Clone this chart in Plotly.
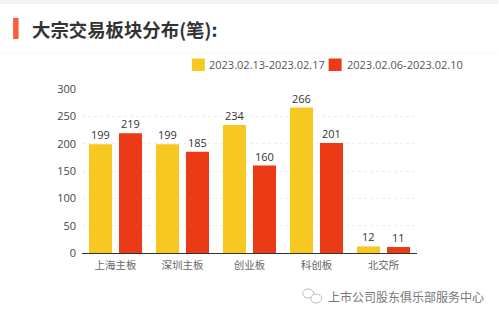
import plotly.graph_objects as go

categories = ["上海主板", "深圳主板", "创业板", "科创板", "北交所"]
series_a_name = "2023.02.13-2023.02.17"
series_b_name = "2023.02.06-2023.02.10"
series_a = [199, 199, 234, 266, 12]
series_b = [219, 185, 160, 201, 11]
y_ticks = [0, 50, 100, 150, 200, 250, 300]
title_text = "大宗交易板块分布(笔):"
watermark = "上市公司股东俱乐部服务中心"

FONT = "Open Sans, Noto Sans CJK SC, sans-serif"
CJK = "Noto Sans CJK SC, sans-serif"
YELLOW = "#F7C821"
RED = "#EA3A16"
W, H = 499, 318
L, R, T, B = 82, 81.5, 89, 65
PW, PH = W - L - R, H - T - B

def px(x):
    return (x - L) / PW

def py(y):
    return (H - B - y) / PH

fig = go.Figure()
for name, vals, col in [(series_a_name, series_a, YELLOW), (series_b_name, series_b, RED)]:
    fig.add_bar(x=categories, y=vals, name=name, marker=dict(color=col, line_width=0))

shapes = [
    dict(type="rect", xref="paper", yref="paper", x0=px(0), x1=px(W), y0=py(4), y1=py(0), fillcolor="#F2F2F2", line_width=0, layer="below"),
    dict(type="rect", xref="paper", yref="paper", x0=px(13), x1=px(18.5), y0=py(39), y1=py(18), fillcolor="#FF5A3C", line_width=0),
    dict(type="line", xref="paper", yref="paper", x0=px(0), x1=px(W), y0=py(53), y1=py(53), line=dict(color="#F5F5F5", width=1)),
    dict(type="rect", xref="paper", yref="paper", x0=px(192), x1=px(205), y0=py(71), y1=py(58.5), fillcolor=YELLOW, line_width=0),
    dict(type="rect", xref="paper", yref="paper", x0=px(329), x1=px(342), y0=py(71), y1=py(58.5), fillcolor=RED, line_width=0),
    dict(type="circle", xref="paper", yref="paper", x0=px(303), x1=px(314), y0=py(298), y1=py(289), line=dict(color="#BBBBBB", width=1)),
    dict(type="circle", xref="paper", yref="paper", x0=px(311), x1=px(322), y0=py(303), y1=py(294), fillcolor="#FFFFFF", line=dict(color="#BBBBBB", width=1)),
]

annotations = [
    dict(text=f"<b>{title_text}</b>", xref="paper", yref="paper", x=px(30), y=py(29), xanchor="left", yanchor="middle",
         showarrow=False, font=dict(family=CJK, size=18.4, color="#333333")),
    dict(text=series_a_name, xref="paper", yref="paper", x=px(207.5), y=py(64), xanchor="left", yanchor="middle",
         showarrow=False, font=dict(family=FONT, size=11, color="#555555")),
    dict(text=series_b_name, xref="paper", yref="paper", x=px(345), y=py(64), xanchor="left", yanchor="middle",
         showarrow=False, font=dict(family=FONT, size=11, color="#555555")),
    dict(text=watermark, xref="paper", yref="paper", x=px(326.5), y=py(296), xanchor="left", yanchor="middle",
         showarrow=False, font=dict(family=CJK, size=12, color="#777777")),
]
for vals, shift in [(series_a, -15), (series_b, 15)]:
    for cat, v in zip(categories, vals):
        annotations.append(dict(text=str(v), x=cat, y=v, xref="x", yref="y", xshift=shift, yshift=0,
                                xanchor="center", yanchor="bottom", showarrow=False,
                                font=dict(family=FONT, size=11, color="#333333")))

fig.update_layout(
    width=W, height=H, autosize=False,
    margin=dict(l=L, r=R, t=T, b=B, pad=0),
    paper_bgcolor="white", plot_bgcolor="white",
    barmode="group", bargap=0.104, bargroupgap=0.233,
    showlegend=False, shapes=shapes, annotations=annotations,
    xaxis=dict(type="category", showline=True, linecolor="#333333", linewidth=1, showgrid=False,
               ticks="", ticklabelstandoff=2, tickfont=dict(family=CJK, size=10.5, color="#666666")),
    yaxis=dict(range=[0, 300], tickvals=y_ticks, showline=False, zeroline=False,
               gridcolor="#EEEEEE", griddash="dot", gridwidth=1, ticks="", ticklabelstandoff=5,
               tickfont=dict(family=FONT, size=11, color="#444444")),
)

fig.write_html("out.html", config=dict(displayModeBar=False),
               post_script="document.body.style.margin='0';document.documentElement.style.overflow='hidden';")
